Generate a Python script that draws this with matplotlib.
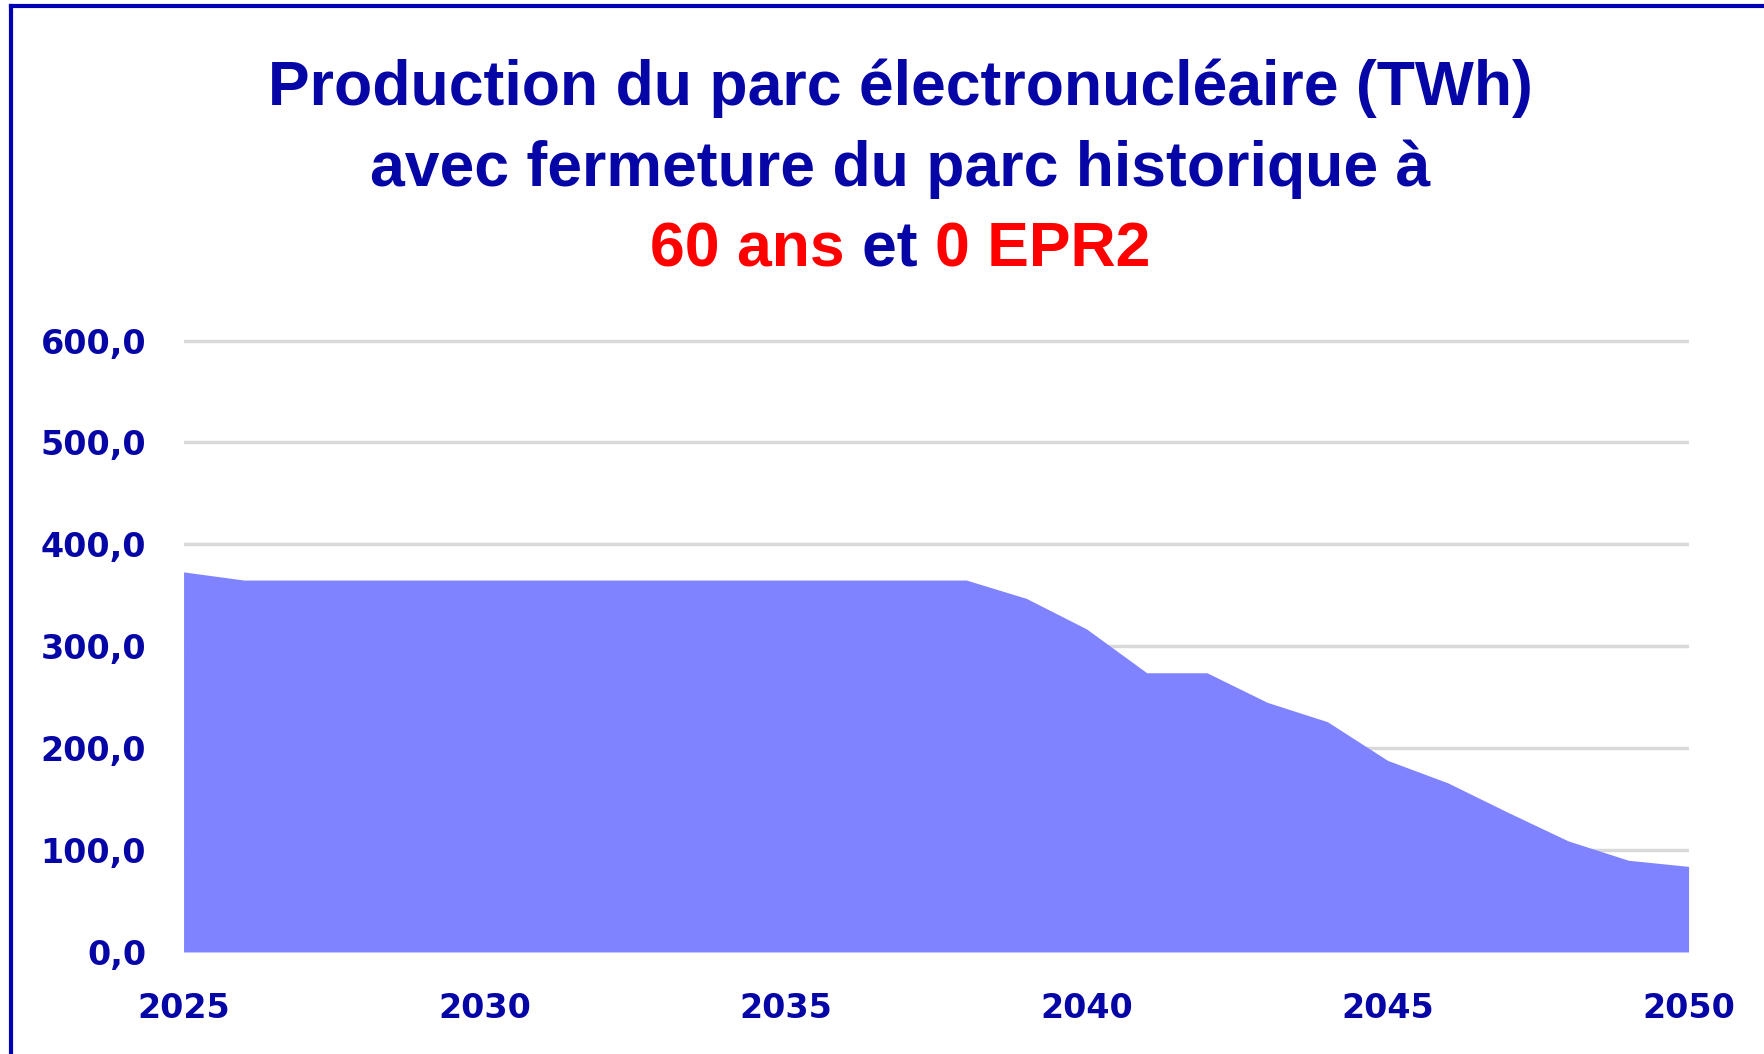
import matplotlib
matplotlib.use("Agg")
from matplotlib import pyplot as plt
from matplotlib.lines import Line2D

years = list(range(2025, 2051))
production = [373, 365, 365, 365, 365, 365, 365, 365, 365, 365, 365, 365, 365, 365,
              347, 317, 274, 274, 245, 226, 188, 166, 137, 109, 90, 84]
yticks = [0, 100, 200, 300, 400, 500, 600]
xticks = [2025, 2030, 2035, 2040, 2045, 2050]

blue = '#0606A6'
red = '#FF0000'
fill_col = '#7F83FF'

fig = plt.figure(figsize=(17.65, 10.54), dpi=100)
ax = fig.add_axes([0.104, 0.0968, 0.8527, 0.582])

ax.fill_between(years, production, 0, color=fill_col, linewidth=0, zorder=2)
ax.set_xlim(2025, 2050)
ax.set_ylim(0, 602)
ax.set_yticks(yticks)
ax.set_xticks(xticks)
ax.set_yticklabels([f"{v:.1f}".replace('.', ',') for v in yticks])
ax.grid(axis='y', color='#D9D9D9', linewidth=2.5, zorder=0)
ax.set_axisbelow(True)
for s in ax.spines.values():
    s.set_visible(False)
ax.tick_params(axis='both', length=0, colors=blue)
ax.tick_params(axis='y', pad=27, labelsize=24)
ax.tick_params(axis='x', pad=29, labelsize=24)
for lab in ax.get_xticklabels() + ax.get_yticklabels():
    lab.set_fontweight('bold')
    lab.set_family('DejaVu Sans')

# title
tfont = dict(family='Liberation Sans', fontweight='bold', fontsize=45)
fig.text(0.51, 0.916, "Production du parc électronucléaire (TWh)", color=blue,
         ha='center', va='center', **tfont)
fig.text(0.51, 0.839, "avec fermeture du parc historique à", color=blue,
         ha='center', va='center', **tfont)

parts = [("60 ans ", red), ("et ", blue), ("0 EPR2", red)]
fig.canvas.draw()
r = fig.canvas.get_renderer()
widths = []
for txt, c in parts:
    t = fig.text(0, 0, txt, **tfont)
    widths.append(t.get_window_extent(r).width)
    t.remove()
total = sum(widths)
x0 = 0.51 * fig.bbox.width - total / 2
for (txt, c), w in zip(parts, widths):
    fig.text(x0 / fig.bbox.width, 0.763, txt, color=c, ha='left', va='center', **tfont)
    x0 += w

# frame
fig.add_artist(Line2D([0.0065, 0.0065], [0, 0.994], color='#0000B4', linewidth=3,
                      transform=fig.transFigure))
fig.add_artist(Line2D([0.0065, 1.0], [0.994, 0.994], color='#0000B4', linewidth=3,
                      transform=fig.transFigure))

fig.savefig('out.png', dpi=100)
